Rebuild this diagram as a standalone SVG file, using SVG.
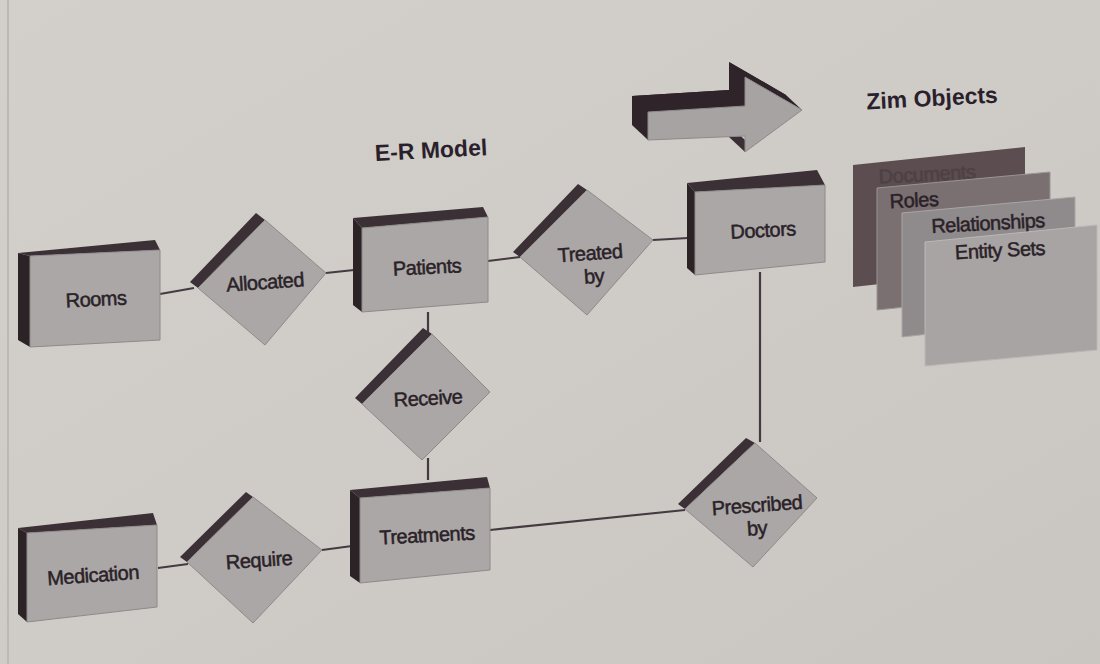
<svg xmlns="http://www.w3.org/2000/svg" width="1100" height="664" viewBox="0 0 1100 664">
<defs>
<style>
.face{fill:#aba7a6;stroke:#8f8a8a;stroke-width:1}
.top{fill:#3b3035}
.side{fill:#2c2327}
.lbl{font-family:"Liberation Sans",Arial,sans-serif;font-size:20px;fill:#2a2228;stroke:#2a2228;stroke-width:0.5;text-anchor:middle;letter-spacing:-0.5px}
.ttl{font-family:"Liberation Sans",Arial,sans-serif;font-size:23px;font-weight:bold;fill:#2a1f2c;text-anchor:middle}
.conn line{stroke:#443a42;stroke-width:2.2}
</style>
<linearGradient id="bg" x1="0" y1="0" x2="1" y2="1">
<stop offset="0" stop-color="#d3cfca"/>
<stop offset="0.5" stop-color="#cfcbc6"/>
<stop offset="1" stop-color="#c9c5c0"/>
</linearGradient>
</defs>
<rect width="1100" height="664" fill="url(#bg)"/>
<line x1="8" y1="0" x2="8" y2="664" stroke="#bdb8b3" stroke-width="2"/>

<g class="conn" id="connectors">
<line x1="160" y1="294" x2="194" y2="288"/>
<line x1="326" y1="273" x2="354" y2="270"/>
<line x1="488" y1="261" x2="520" y2="257"/>
<line x1="653" y1="240" x2="688" y2="238"/>
<line x1="428" y1="312" x2="428" y2="334"/>
<line x1="428" y1="458" x2="428" y2="480"/>
<line x1="760" y1="272" x2="760" y2="442"/>
<line x1="685" y1="510" x2="490" y2="530"/>
<line x1="322" y1="550" x2="352" y2="546"/>
<line x1="158" y1="568" x2="188" y2="564"/>
</g>

<g id="title">
<text class="ttl" x="431" y="158" transform="rotate(-3 431 150)">E-R Model</text>
</g>

<g id="arrow">
<polygon fill="#2e2429" points="632,96 729,90 729,62 786,95 729,137 729,125 632,125"/>
<polygon fill="#2e2429" points="632,96 648,112 648,140 632,125"/>
<polygon fill="#2e2429" points="632,96 729,90 745,106 648,112"/>
<polygon fill="#2e2429" points="729,62 745,77 802,110 786,95"/>
<polygon fill="#3a2f35" points="729,125 745,140 745,152 729,137"/>
<polygon fill="#a7a3a2" stroke="#8f8a8a" points="648,112 745,106 745,77 802,110 745,152 745,136 648,140"/>
</g>

<g id="rooms">
<polygon class="side" points="18,253 30,256 30,347 18,340"/>
<polygon class="top" points="18,253 155,240 160,250 30,256"/>
<polygon class="face" points="30,256 160,250 160,340 30,347"/>
<text class="lbl" x="96" y="306" transform="rotate(-3 96 299)">Rooms</text>
</g>

<g id="allocated">
<polygon class="top" points="190,282 256,213 265,220 198,288"/>
<polygon class="face" points="198,288 265,220 326,273 265,345"/>
<text class="lbl" x="265" y="289" transform="rotate(-4 265 282)">Allocated</text>
</g>

<g id="patients">
<polygon class="side" points="353,218 362,228 362,312 353,305"/>
<polygon class="top" points="353,218 483,207 488,217 362,228"/>
<polygon class="face" points="362,228 488,217 488,302 362,312"/>
<text class="lbl" x="427" y="274" transform="rotate(-3 427 267)">Patients</text>
</g>

<g id="treated-by">
<polygon class="top" points="513,252 578,184 587,190 520,257"/>
<polygon class="face" points="520,257 587,190 653,240 587,315"/>
<text class="lbl" x="590" y="260" transform="rotate(-4 590 253)">Treated</text>
<text class="lbl" x="594" y="283" transform="rotate(-4 594 276)">by</text>
</g>

<g id="doctors">
<polygon class="side" points="687,183 695,192 695,275 687,268"/>
<polygon class="top" points="687,183 817,170 825,185 695,192"/>
<polygon class="face" points="695,192 825,185 825,262 695,275"/>
<text class="lbl" x="763" y="237" transform="rotate(-3 763 230)">Doctors</text>
</g>

<g id="receive">
<polygon class="top" points="355,398 423,328 432,334 362,404"/>
<polygon class="face" points="362,404 432,334 490,392 422,460"/>
<text class="lbl" x="428" y="405" transform="rotate(-3 428 398)">Receive</text>
</g>

<g id="treatments">
<polygon class="side" points="350,490 360,498 360,583 350,576"/>
<polygon class="top" points="350,490 487,477 490,488 360,498"/>
<polygon class="face" points="360,498 490,488 490,570 360,583"/>
<text class="lbl" x="427" y="542" transform="rotate(-3 427 535)">Treatments</text>
</g>

<g id="prescribed-by">
<polygon class="top" points="678,504 746,438 755,443 685,509"/>
<polygon class="face" points="685,509 755,443 817,498 753,567"/>
<text class="lbl" x="757" y="512" transform="rotate(-4 757 505)">Prescribed</text>
<text class="lbl" x="757" y="535" transform="rotate(-4 757 528)">by</text>
</g>

<g id="medication">
<polygon class="side" points="18,528 27,533 27,622 18,614"/>
<polygon class="top" points="18,528 153,513 157,525 27,533"/>
<polygon class="face" points="27,533 157,525 157,607 27,622"/>
<text class="lbl" x="93" y="582" transform="rotate(-4 93 575)">Medication</text>
</g>

<g id="require">
<polygon class="top" points="180,557 246,492 253,497 187,562"/>
<polygon class="face" points="187,562 253,497 322,550 253,623"/>
<text class="lbl" x="259" y="567" transform="rotate(-4 259 560)">Require</text>
</g>

<g id="zim-objects">
<text class="ttl" x="932" y="106" transform="rotate(-3 932 98)">Zim Objects</text>
<polygon fill="#5b4d50" points="853,165 1025,147 1025,268 853,287"/>
<text class="lbl" x="927" y="181" style="fill:#4d4145;stroke:#4d4145" transform="rotate(-3 927 174)">Documents</text>
<polygon fill="#7a7072" stroke="#9a9494" points="877,188 1050,172 1050,292 877,310"/>
<text class="lbl" x="914" y="207" transform="rotate(-3 914 200)">Roles</text>
<polygon fill="#8f8a8b" stroke="#aaa6a5" points="902,213 1075,197 1075,318 902,337"/>
<text class="lbl" x="988" y="230" transform="rotate(-3 988 223)">Relationships</text>
<polygon fill="#a8a4a4" stroke="#bbb7b6" points="925,242 1097,225 1097,350 925,366"/>
<text class="lbl" x="1000" y="257" transform="rotate(-3 1000 250)">Entity Sets</text>
</g>
</svg>
